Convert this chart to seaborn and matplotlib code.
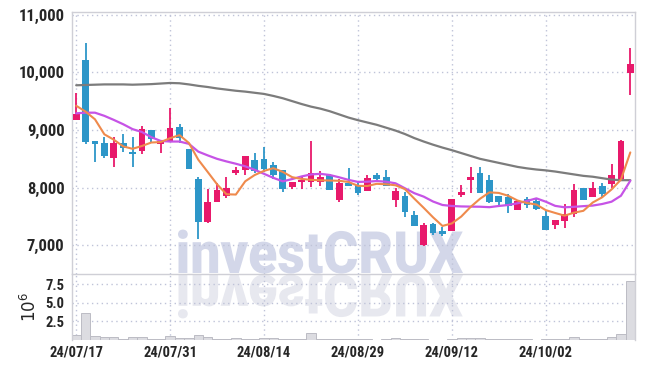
import numpy as np
import pandas as pd
import matplotlib
matplotlib.use("Agg")
import matplotlib.pyplot as plt
import seaborn as sns
from matplotlib.textpath import TextPath
from matplotlib.font_manager import FontProperties
from matplotlib.patches import PathPatch
from matplotlib.transforms import Affine2D
from matplotlib.ticker import FuncFormatter, FixedLocator

# ---------------- data ----------------
dates = ["24/07/17", "24/07/18", "24/07/19", "24/07/22", "24/07/23", "24/07/24", "24/07/25", "24/07/26",
         "24/07/29", "24/07/30", "24/07/31", "24/08/01", "24/08/02", "24/08/05", "24/08/06", "24/08/07",
         "24/08/08", "24/08/09", "24/08/12", "24/08/13", "24/08/14", "24/08/16", "24/08/19", "24/08/20",
         "24/08/21", "24/08/22", "24/08/23", "24/08/26", "24/08/27", "24/08/28", "24/08/29", "24/08/30",
         "24/09/02", "24/09/03", "24/09/04", "24/09/05", "24/09/06", "24/09/09", "24/09/10", "24/09/11",
         "24/09/12", "24/09/13", "24/09/19", "24/09/20", "24/09/23", "24/09/24", "24/09/25", "24/09/26",
         "24/09/27", "24/09/30", "24/10/02", "24/10/04", "24/10/07", "24/10/08", "24/10/10", "24/10/11",
         "24/10/14", "24/10/15", "24/10/16", "24/10/17"]

opens = [9175, 10210, 8810, 8775, 8510, 8770, 8620, 8640, 9000, 8765,
         8800, 9045, 8670, 8150, 7400, 7750, 7855, 8250, 8305, 8480,
         8495, 8395, 8305, 8020, 8095, 8105, 8105, 8220, 7790, 8085,
         8045, 7950, 8220, 8180, 7785, 7855, 7525, 7000, 7370, 7250,
         7255, 7880, 8135, 8260, 8135, 7855, 7835, 7615, 7800, 7775,
         7510, 7355, 7430, 7540, 7990, 7845, 8030, 8065, 8150, 9995]
highs = [9635, 10515, 8815, 8885, 8875, 8925, 8885, 9075, 9005, 8830,
         9375, 9100, 8670, 8180, 7975, 8075, 8190, 8365, 8550, 8595,
         8700, 8450, 8305, 8100, 8190, 8815, 8295, 8230, 8150, 8335,
         8105, 8220, 8260, 8305, 8000, 7930, 7600, 7385, 7380, 7315,
         7810, 8045, 8355, 8355, 8220, 7860, 7890, 7780, 7835, 7800,
         7600, 7445, 7715, 8065, 7990, 8105, 8075, 8405, 8830, 10415]
lows = [9170, 8750, 8450, 8510, 8365, 8625, 8350, 8585, 8800, 8595,
        8795, 8770, 8330, 7105, 7395, 7745, 7815, 8220, 8220, 8260,
        8275, 8145, 7920, 7975, 7975, 8015, 8035, 7955, 7755, 8030,
        7875, 7945, 8105, 8035, 7660, 7485, 7335, 6995, 7180, 7165,
        7250, 7845, 7905, 7910, 7730, 7690, 7565, 7610, 7645, 7620,
        7265, 7280, 7295, 7495, 7785, 7845, 7845, 7990, 8150, 9605]
closes = [9275, 8800, 8765, 8550, 8770, 8695, 8590, 9010, 8850, 8810,
          9030, 8855, 8330, 7400, 7750, 7960, 7990, 8305, 8550, 8290,
          8325, 8220, 7980, 8095, 8135, 8250, 8180, 7960, 8075, 8030,
          7915, 8165, 8150, 8035, 7945, 7585, 7335, 7355, 7210, 7200,
          7805, 7930, 8190, 7915, 7755, 7755, 7685, 7775, 7700, 7625,
          7270, 7440, 7540, 7960, 7785, 7990, 7890, 8220, 8810, 10145]

ma_short = [9420, 9318, 9185, 8925, 8832, 8716, 8674, 8723, 8783, 8791,
            8858, 8911, 8775, 8485, 8273, 8059, 7886, 7881, 8111, 8219,
            8292, 8338, 8273, 8182, 8151, 8136, 8128, 8124, 8120, 8099,
            8032, 8029, 8067, 8059, 8042, 7976, 7810, 7651, 7486, 7337,
            7381, 7500, 7667, 7808, 7919, 7909, 7860, 7777, 7734, 7708,
            7611, 7562, 7515, 7567, 7599, 7743, 7833, 7969, 8139, 8611]
ma_mid = [9289, 9300, 9300, 9245, 9175, 9100, 9015, 8965, 8875, 8810,
          8800, 8800, 8760, 8625, 8560, 8500, 8455, 8415, 8370, 8310,
          8240, 8170, 8110, 8150, 8195, 8230, 8240, 8220, 8180, 8135,
          8100, 8104, 8115, 8104, 8076, 7990, 7905, 7845, 7760, 7700,
          7683, 7675, 7672, 7670, 7662, 7683, 7700, 7730, 7770, 7815,
          7757, 7685, 7660, 7668, 7680, 7690, 7717, 7757, 7860, 8120]
ma_long = [9775, 9780, 9785, 9790, 9790, 9790, 9785, 9790, 9795, 9805,
           9815, 9810, 9790, 9765, 9745, 9720, 9700, 9680, 9665, 9645,
           9625, 9590, 9550, 9500, 9450, 9405, 9370, 9325, 9270, 9215,
           9170, 9130, 9090, 9040, 8990, 8930, 8860, 8800, 8745, 8695,
           8650, 8600, 8550, 8500, 8465, 8430, 8395, 8360, 8335, 8315,
           8300, 8280, 8255, 8230, 8205, 8190, 8165, 8140, 8130, 8130]
volume_m = [0.71, 3.6, 0.53, 0.45, 0.45, 0.18, 0.45, 0.45, 0.18, 0.18,
            0.58, 0.31, 0.31, 0.71, 0.45, 0.18, 0.18, 0.31, 0.18, 0.18,
            0.31, 0.31, 0.18, 0.18, 0.18, 0.98, 0.18, 0.18, 0.18, 0.18,
            0.18, 0.12, 0.05, 0.18, 0.31, 0.18, 0.18, 0.18, 0.05, 0.05,
            0.18, 0.31, 0.31, 0.31, 0.18, 0.18, 0.18, 0.18, 0.08, 0.05,
            0.18, 0.18, 0.18, 0.45, 0.18, 0.18, 0.08, 0.45, 0.85, 7.9]

tick_idx = [0, 10, 20, 30, 40, 50]
price_ticks = [7000, 8000, 9000, 10000, 11000]
vol_ticks = [2.5, 5.0, 7.5]

# ---------------- style ----------------
sns.set_style("white")
plt.rcParams["font.family"] = ["Roboto Condensed", "DejaVu Sans"]
plt.rcParams["font.stretch"] = "condensed"
plt.rcParams["font.weight"] = "bold"

RED = "#e8196b"
BLUE = "#2d96c8"
ORANGE = "#ef8a4c"
PURPLE = "#c653e6"
GRAY = "#7c7c7c"
GRID = "#bfc3d8"
SPINE = "#cfcfd6"
TXT = "#262626"

df = pd.DataFrame({"i": np.arange(len(dates)), "date": dates, "open": opens, "high": highs,
                   "low": lows, "close": closes, "ma_s": ma_short, "ma_m": ma_mid,
                   "ma_l": ma_long, "vol": volume_m})

W, H = 645, 368
fig = plt.figure(figsize=(W / 100, H / 100), dpi=100)
fig.patch.set_facecolor("white")

L, R = 71.5, 635
ax = fig.add_axes([L / W, 1 - 274 / H, (R - L) / W, (274 - 12) / H])
vax = fig.add_axes([L / W, 1 - 340 / H, (R - L) / W, (340 - 274) / H], sharex=ax)
for a in (ax, vax):
    a.set_facecolor("none")

# watermark (behind axes content)
fp = FontProperties(family=["Roboto", "DejaVu Sans"], weight="heavy", stretch="normal")
tp = TextPath((0, 0), "investCRUX", size=100, prop=fp)
ext = tp.get_extents()
sx = 285 / ext.width
sy = 42 / 72.0
x0 = 178 - ext.x0 * sx
up_tr = Affine2D().scale(sx, sy).translate(x0, H - 273).scale(1 / W, 1 / H) + fig.transFigure
dn_tr = Affine2D().scale(sx, -sy).translate(x0, H - 275).scale(1 / W, 1 / H) + fig.transFigure
fig.add_artist(PathPatch(tp, transform=up_tr, facecolor="#d3d7e9", edgecolor="none", zorder=-5))
fig.add_artist(PathPatch(tp, transform=dn_tr, facecolor="#e7e8ef", edgecolor="none", zorder=-6))

# ---------------- candles ----------------
up = df["close"] >= df["open"]
cols = np.where(up, RED, BLUE)
ax.vlines(df["i"], df["low"], df["high"], colors=cols, lw=1.3, zorder=2)
body_bot = np.minimum(df["open"], df["close"])
body_h = np.maximum(np.abs(df["close"] - df["open"]), 12)
ax.bar(df["i"], body_h, bottom=body_bot, width=0.72, color=cols, linewidth=0, zorder=3)

sns.lineplot(data=df, x="i", y="ma_l", ax=ax, color=GRAY, lw=1.6, zorder=4)
sns.lineplot(data=df, x="i", y="ma_m", ax=ax, color=PURPLE, lw=1.6, zorder=5)
sns.lineplot(data=df, x="i", y="ma_s", ax=ax, color=ORANGE, lw=1.5, zorder=6)

ax.set_xlim(-0.5, 59.5)
ax.set_ylim(6504, 11045)
ax.yaxis.set_major_locator(FixedLocator(price_ticks))
ax.yaxis.set_major_formatter(FuncFormatter(lambda v, p: f"{int(v):,}"))
ax.set_xlabel("")
ax.set_ylabel("")

# ---------------- volume ----------------
vax.bar(df["i"], df["vol"], width=1.0, color="#dcdce1", edgecolor="#bcbcc4", linewidth=0.7, zorder=2)
vax.set_ylim(0, 8.84)
vax.yaxis.set_major_locator(FixedLocator(vol_ticks))
vax.yaxis.set_major_formatter(FuncFormatter(lambda v, p: f"{v:.1f}"))
vax.set_xticks(tick_idx)
vax.set_xticklabels([dates[k] for k in tick_idx])
vax.set_ylabel("$\\mathregular{10^6}$", fontsize=12, color=TXT, labelpad=4,
               fontweight="normal", fontstretch="normal", family="DejaVu Sans")
plt.setp(ax.get_xticklabels(), visible=False)

for a in (ax, vax):
    a.grid(True, color=GRID, linestyle=(0, (1, 2.5)), lw=1.0)
    a.set_axisbelow(True)
    a.tick_params(length=0, colors=TXT)
    for s in a.spines.values():
        s.set_color(SPINE)
        s.set_linewidth(1.0)
vax.spines["bottom"].set_visible(False)
vax.spines["top"].set_visible(False)

ax.tick_params(axis="y", labelsize=12, pad=5)
vax.tick_params(axis="y", labelsize=10.5, pad=5)
vax.tick_params(axis="x", labelsize=10.5, pad=4)

fig.savefig("out.png", dpi=100, facecolor="white")
